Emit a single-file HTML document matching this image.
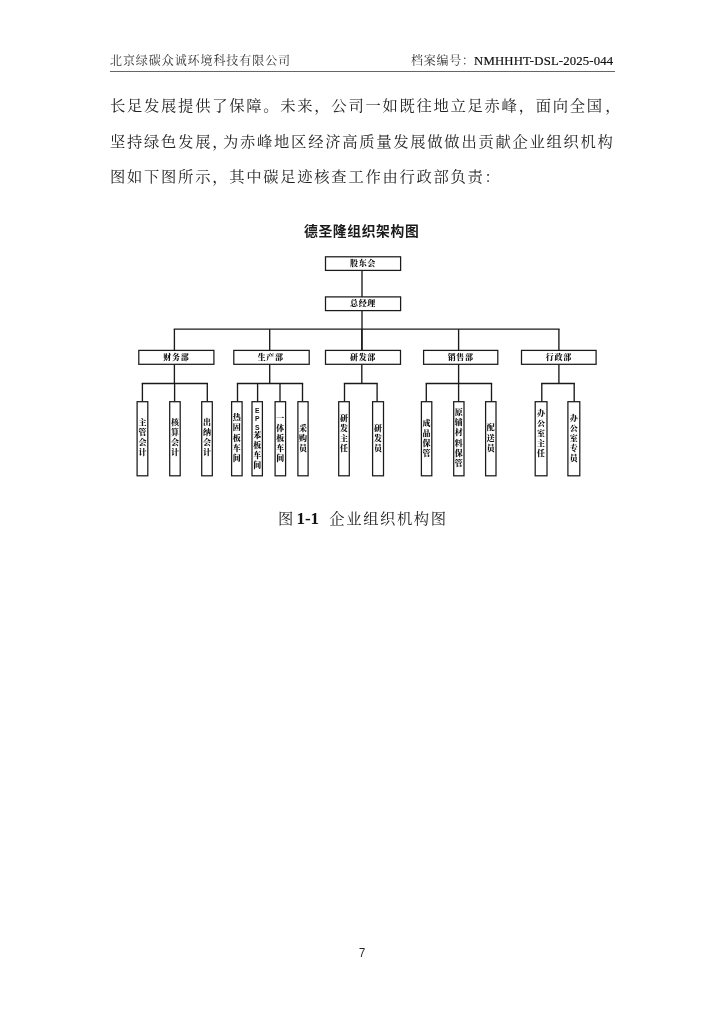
<!DOCTYPE html>
<html lang="zh-CN">
<head>
<meta charset="utf-8">
<title>企业组织机构图</title>
<style>
html,body{margin:0;padding:0;background:#fff;}
body{width:724px;height:1024px;position:relative;overflow:hidden;font-family:"Liberation Serif","Noto Serif CJK SC",serif;color:#222;}
.abs{position:absolute;white-space:nowrap;will-change:transform;}
.hdr{font-size:12px;letter-spacing:0.93px;line-height:16px;top:53px;color:#333;font-weight:400;}
.hl{left:110px;}
.hr{right:110.6px;letter-spacing:0.78px;}
.rule{position:absolute;left:109.5px;width:505px;top:70.8px;height:1px;background:#666;}
.p{font-size:15.3px;letter-spacing:1.73px;line-height:24px;left:109.5px;color:#222;font-weight:400;}
.hw{margin-right:-6.2px;}
.lat{font-size:12.78px;letter-spacing:0.15px;font-weight:400;color:#111;margin-left:-0.8px;-webkit-text-stroke:0.2px #111;}
.title{font-family:"Liberation Sans","Noto Sans CJK SC",sans-serif;font-weight:bold;font-size:13.8px;letter-spacing:0.62px;line-height:18px;left:304.3px;top:222.5px;color:#1a1a1a;}
.cap{font-size:15.3px;letter-spacing:1.58px;line-height:24px;left:277.6px;top:506.6px;font-weight:400;color:#222;}
.cap b{font-family:"Liberation Serif",serif;font-size:17.03px;letter-spacing:0;font-weight:bold;margin:0 4.9px 0 -3.9px;color:#111;}
.pn{font-family:"Liberation Sans",sans-serif;font-size:12.9px;line-height:16px;left:352px;width:20px;text-align:center;top:944.6px;color:#222;transform:scaleX(0.86);}
svg{position:absolute;left:0;top:0;will-change:transform;}
svg .shapes{filter:blur(0.3px);}
svg text.bt{font-family:"Liberation Serif","Noto Serif CJK SC",serif;font-weight:900;fill:#111;}
svg .lt{font-family:"Liberation Sans",sans-serif;font-weight:bold;fill:#111;}
</style>
</head>
<body>
<div class="abs hdr hl">北京绿碳众诚环境科技有限公司</div>
<div class="abs hdr hr">档案编号：<span class="lat">NMHHHT-DSL-2025-044</span></div>
<div class="rule"></div>
<div class="abs p" style="top:94.2px">长足发展提供了保障。未来，公司一如既往地立足赤峰，面向全国<span style="margin-left:1.4px">，</span></div>
<div class="abs p" style="top:129.5px">坚持绿色发展<span class="hw">，</span>为赤峰地区经济高质量发展做做出贡献企业组织机构</div>
<div class="abs p" style="top:164.7px">图如下图所示，其中碳足迹核查工作由行政部负责：</div>
<div class="abs title">德圣隆组织架构图</div>
<svg width="724" height="1024" viewBox="0 0 724 1024">
<g class="shapes">
<rect x="325.5" y="256.8" width="75.1" height="13.6" fill="#fff" stroke="#1a1a1a" stroke-width="1.25"/>
<rect x="325.5" y="296.9" width="75.1" height="13.7" fill="#fff" stroke="#1a1a1a" stroke-width="1.25"/>
<line x1="362" y1="270.4" x2="362" y2="296.9" stroke="#1a1a1a" stroke-width="1.35"/>
<line x1="362" y1="310.6" x2="362" y2="350.4" stroke="#1a1a1a" stroke-width="1.35"/>
<line x1="173.72" y1="329.1" x2="559.57" y2="329.1" stroke="#1a1a1a" stroke-width="1.35"/>
<line x1="174.4" y1="329.1" x2="174.4" y2="350.4" stroke="#1a1a1a" stroke-width="1.35"/>
<line x1="174.4" y1="364.3" x2="174.4" y2="383.5" stroke="#1a1a1a" stroke-width="1.35"/>
<line x1="141.72" y1="383.5" x2="207.98" y2="383.5" stroke="#1a1a1a" stroke-width="1.35"/>
<line x1="142.4" y1="383.5" x2="142.4" y2="401.7" stroke="#1a1a1a" stroke-width="1.35"/>
<line x1="174.6" y1="383.5" x2="174.6" y2="401.7" stroke="#1a1a1a" stroke-width="1.35"/>
<line x1="207.3" y1="383.5" x2="207.3" y2="401.7" stroke="#1a1a1a" stroke-width="1.35"/>
<line x1="269.7" y1="329.1" x2="269.7" y2="350.4" stroke="#1a1a1a" stroke-width="1.35"/>
<line x1="269.7" y1="364.3" x2="269.7" y2="383.5" stroke="#1a1a1a" stroke-width="1.35"/>
<line x1="236.82" y1="383.5" x2="303.18" y2="383.5" stroke="#1a1a1a" stroke-width="1.35"/>
<line x1="237.5" y1="383.5" x2="237.5" y2="401.7" stroke="#1a1a1a" stroke-width="1.35"/>
<line x1="257.6" y1="383.5" x2="257.6" y2="401.7" stroke="#1a1a1a" stroke-width="1.35"/>
<line x1="280" y1="383.5" x2="280" y2="401.7" stroke="#1a1a1a" stroke-width="1.35"/>
<line x1="302.5" y1="383.5" x2="302.5" y2="401.7" stroke="#1a1a1a" stroke-width="1.35"/>
<line x1="361.8" y1="329.1" x2="361.8" y2="350.4" stroke="#1a1a1a" stroke-width="1.35"/>
<line x1="361.8" y1="364.3" x2="361.8" y2="383.5" stroke="#1a1a1a" stroke-width="1.35"/>
<line x1="343.82" y1="383.5" x2="377.78" y2="383.5" stroke="#1a1a1a" stroke-width="1.35"/>
<line x1="344.5" y1="383.5" x2="344.5" y2="401.7" stroke="#1a1a1a" stroke-width="1.35"/>
<line x1="377.1" y1="383.5" x2="377.1" y2="401.7" stroke="#1a1a1a" stroke-width="1.35"/>
<line x1="458.6" y1="329.1" x2="458.6" y2="350.4" stroke="#1a1a1a" stroke-width="1.35"/>
<line x1="458.6" y1="364.3" x2="458.6" y2="383.5" stroke="#1a1a1a" stroke-width="1.35"/>
<line x1="425.62" y1="383.5" x2="492.18" y2="383.5" stroke="#1a1a1a" stroke-width="1.35"/>
<line x1="426.3" y1="383.5" x2="426.3" y2="401.7" stroke="#1a1a1a" stroke-width="1.35"/>
<line x1="458.6" y1="383.5" x2="458.6" y2="401.7" stroke="#1a1a1a" stroke-width="1.35"/>
<line x1="491.5" y1="383.5" x2="491.5" y2="401.7" stroke="#1a1a1a" stroke-width="1.35"/>
<line x1="558.9" y1="329.1" x2="558.9" y2="350.4" stroke="#1a1a1a" stroke-width="1.35"/>
<line x1="558.9" y1="364.3" x2="558.9" y2="383.5" stroke="#1a1a1a" stroke-width="1.35"/>
<line x1="541.12" y1="383.5" x2="574.88" y2="383.5" stroke="#1a1a1a" stroke-width="1.35"/>
<line x1="541.8" y1="383.5" x2="541.8" y2="401.7" stroke="#1a1a1a" stroke-width="1.35"/>
<line x1="574.2" y1="383.5" x2="574.2" y2="401.7" stroke="#1a1a1a" stroke-width="1.35"/>
<rect x="138.8" y="350.4" width="75.1" height="13.9" fill="#fff" stroke="#1a1a1a" stroke-width="1.25"/>
<rect x="137.1" y="401.7" width="10.7" height="74.1" fill="#fff" stroke="#1a1a1a" stroke-width="1.25"/>
<rect x="169.7" y="401.7" width="10.5" height="74.1" fill="#fff" stroke="#1a1a1a" stroke-width="1.25"/>
<rect x="201.7" y="401.7" width="10.6" height="74.1" fill="#fff" stroke="#1a1a1a" stroke-width="1.25"/>
<rect x="233.8" y="350.4" width="75.4" height="13.9" fill="#fff" stroke="#1a1a1a" stroke-width="1.25"/>
<rect x="231.6" y="401.7" width="10.5" height="74.1" fill="#fff" stroke="#1a1a1a" stroke-width="1.25"/>
<rect x="252" y="401.7" width="10.4" height="74.1" fill="#fff" stroke="#1a1a1a" stroke-width="1.25"/>
<rect x="275.1" y="401.7" width="10.5" height="74.1" fill="#fff" stroke="#1a1a1a" stroke-width="1.25"/>
<rect x="297.9" y="401.7" width="10.2" height="74.1" fill="#fff" stroke="#1a1a1a" stroke-width="1.25"/>
<rect x="325.5" y="350.4" width="75" height="13.9" fill="#fff" stroke="#1a1a1a" stroke-width="1.25"/>
<rect x="338.7" y="401.7" width="10.6" height="74.1" fill="#fff" stroke="#1a1a1a" stroke-width="1.25"/>
<rect x="372.6" y="401.7" width="10.9" height="74.1" fill="#fff" stroke="#1a1a1a" stroke-width="1.25"/>
<rect x="423.6" y="350.4" width="74.2" height="13.9" fill="#fff" stroke="#1a1a1a" stroke-width="1.25"/>
<rect x="421.4" y="401.7" width="10.4" height="74.1" fill="#fff" stroke="#1a1a1a" stroke-width="1.25"/>
<rect x="453.7" y="401.7" width="10.3" height="74.1" fill="#fff" stroke="#1a1a1a" stroke-width="1.25"/>
<rect x="485.6" y="401.7" width="10.4" height="74.1" fill="#fff" stroke="#1a1a1a" stroke-width="1.25"/>
<rect x="521.5" y="350.4" width="74.6" height="13.9" fill="#fff" stroke="#1a1a1a" stroke-width="1.25"/>
<rect x="535.2" y="401.7" width="11.8" height="74.1" fill="#fff" stroke="#1a1a1a" stroke-width="1.25"/>
<rect x="567.9" y="401.7" width="11.9" height="74.1" fill="#fff" stroke="#1a1a1a" stroke-width="1.25"/>
</g>
<g class="labels">
<text class="bt" x="176.35" y="357.35" font-size="8.0" letter-spacing="0.7" text-anchor="middle" dominant-baseline="central">财务部</text>
<text class="bt" x="142.45 142.45 142.45 142.45" y="422.82 432.88 442.93 452.97" font-size="8" text-anchor="middle" dominant-baseline="central">主管会计</text>
<text class="bt" x="174.95 174.95 174.95 174.95" y="422.82 432.88 442.93 452.97" font-size="8" text-anchor="middle" dominant-baseline="central">核算会计</text>
<text class="bt" x="207 207 207 207" y="422.82 432.88 442.93 452.97" font-size="8" text-anchor="middle" dominant-baseline="central">出纳会计</text>
<text class="bt" x="270.7" y="357.35" font-size="8.0" letter-spacing="0.7" text-anchor="middle" dominant-baseline="central">生产部</text>
<text class="bt" x="236.85 236.85 236.85 236.85 236.85" y="417.9 427.95 438 448.05 458.1" font-size="8" text-anchor="middle" dominant-baseline="central">热固板车间</text>
<text class="bt" x="257.2 257.2 257.2 257.2 257.2 257.2 257.2" y="410.2 418.4 426.7 435.2 445.2 455.2 465.3" font-size="8" text-anchor="middle" dominant-baseline="central"><tspan class="lt" font-size="6.8">EPS</tspan>苯板车间</text>
<text class="bt" x="280.35 280.35 280.35 280.35 280.35" y="418.1 428.15 438.2 448.25 458.3" font-size="8" text-anchor="middle" dominant-baseline="central">一体板车间</text>
<text class="bt" x="303 303 303" y="428.35 438.4 448.45" font-size="8" text-anchor="middle" dominant-baseline="central">采购员</text>
<text class="bt" x="363" y="357.35" font-size="8.0" letter-spacing="0.7" text-anchor="middle" dominant-baseline="central">研发部</text>
<text class="bt" x="344 344 344 344" y="418.03 428.08 438.13 448.18" font-size="8" text-anchor="middle" dominant-baseline="central">研发主任</text>
<text class="bt" x="378.05 378.05 378.05" y="428.35 438.4 448.45" font-size="8" text-anchor="middle" dominant-baseline="central">研发员</text>
<text class="bt" x="460.7" y="357.35" font-size="8.0" letter-spacing="0.7" text-anchor="middle" dominant-baseline="central">销售部</text>
<text class="bt" x="426.6 426.6 426.6 426.6" y="423.32 433.38 443.43 453.47" font-size="8" text-anchor="middle" dominant-baseline="central">成品保管</text>
<text class="bt" x="458.85 458.85 458.85 458.85 458.85 458.85" y="412.27 422.52 432.77 443.02 453.27 463.52" font-size="8" text-anchor="middle" dominant-baseline="central">原辅材料保管</text>
<text class="bt" x="490.8 490.8 490.8" y="427.95 438 448.05" font-size="8" text-anchor="middle" dominant-baseline="central">配送员</text>
<text class="bt" x="558.8" y="357.35" font-size="8.0" letter-spacing="0.7" text-anchor="middle" dominant-baseline="central">行政部</text>
<text class="bt" x="541.1 541.1 541.1 541.1 541.1" y="413 423.05 433.1 443.15 453.2" font-size="8" text-anchor="middle" dominant-baseline="central">办公室主任</text>
<text class="bt" x="573.85 573.85 573.85 573.85 573.85" y="418.1 428.15 438.2 448.25 458.3" font-size="8" text-anchor="middle" dominant-baseline="central">办公室专员</text>
<text class="bt" x="363" y="263.7" font-size="8.0" letter-spacing="0.7" text-anchor="middle" dominant-baseline="central">股东会</text>
<text class="bt" x="363" y="303.8" font-size="8.0" letter-spacing="0.7" text-anchor="middle" dominant-baseline="central">总经理</text>
</g>
</svg>
<div class="abs cap">图 <b>1-1</b> 企业组织机构图</div>
<div class="abs pn">7</div>
</body>
</html>
